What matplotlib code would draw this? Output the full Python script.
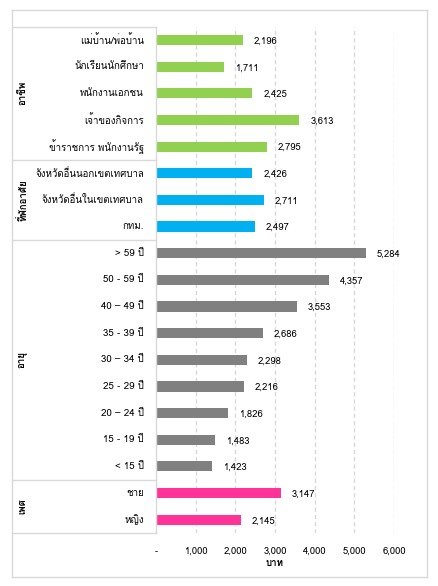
import matplotlib
matplotlib.use("Agg")
import matplotlib.pyplot as plt
from matplotlib.lines import Line2D
from matplotlib.ticker import FuncFormatter

plt.rcParams['font.family'] = ['Loma', 'Noto Sans Thai UI', 'DejaVu Sans']

# ---- data ----
group_names = ['อาชีพ', 'ที่พักอาศัย', 'อายุ', 'เพศ']
group_sizes = [5, 3, 9, 2]
group_colors = ['#92D050', '#00B0F0', '#808080', '#FF3399']

categories = ['แม่บ้าน/พ่อบ้าน', 'นักเรียนนักศึกษา', 'พนักงานเอกชน', 'เจ้าของกิจการ',
              'ข้าราชการ พนักงานรัฐ',
              'จังหวัดอื่นนอกเขตเทศบาล', 'จังหวัดอื่นในเขตเทศบาล', 'กทม.',
              '> 59 ปี', '50 - 59 ปี', '40 – 49 ปี', '35 - 39 ปี', '30 – 34 ปี',
              '25 - 29 ปี', '20 – 24 ปี', '15 - 19 ปี', '< 15 ปี',
              'ชาย', 'หญิง']
values = [2196, 1711, 2425, 3613, 2795,
          2426, 2711, 2497,
          5284, 4357, 3553, 2686, 2298, 2216, 1826, 1483, 1423,
          3147, 2145]
x_ticks = [0, 1000, 2000, 3000, 4000, 5000, 6000]
x_label = 'บาท'

W, H = 439, 586
fig = plt.figure(figsize=(W / 100, H / 100), dpi=100)

def fx(px):
    return px / W

def fy(py):
    return 1 - py / H

ax_left, ax_right, ax_top, ax_bot = 156, 394, 26.7, 533
ax = fig.add_axes([fx(ax_left), fy(ax_bot), fx(ax_right - ax_left), (ax_bot - ax_top) / H])

n = len(categories)
ypos = list(range(n))
bar_colors = []
for c, s in zip(group_colors, group_sizes):
    bar_colors += [c] * s

ax.barh(ypos, values, height=0.38, color=bar_colors, zorder=3)
ax.set_ylim(n - 0.5, -0.5)
ax.set_xlim(0, 6000)

for y, v in zip(ypos, values):
    ax.annotate(f'{v:,}', xy=(v, y), xytext=(11, -1), textcoords='offset pixels',
                ha='left', va='center', fontsize=6.8, color='#000000', annotation_clip=False)

ax.set_xticks(x_ticks)
ax.xaxis.set_major_formatter(FuncFormatter(lambda v, p: '-' if v == 0 else f'{int(v):,}'))
ax.tick_params(axis='x', length=0, pad=10, labelsize=6.8, colors='#000000')
ax.set_yticks([])
ax.set_xlabel(x_label, fontsize=7, labelpad=2, fontweight='bold')
for sp in ax.spines.values():
    sp.set_visible(False)

for xt in x_ticks[1:]:
    ax.axvline(xt, color='#D9D9D9', lw=1.0, ls=(0, (3, 2.2)), zorder=1)

# category labels
for y, c in zip(ypos, categories):
    ax.annotate(c, xy=(0, y), xycoords=ax.get_yaxis_transform(),
                xytext=(-12, 0), textcoords='offset pixels',
                fontsize=7, ha='right', va='center', annotation_clip=False)

# outer frame and table lines (figure coordinates)
line_kw = dict(color='#D9D9D9', lw=1.0, transform=fig.transFigure)
L, R, T, B = 11.5, 427, 10, 576.5
for (x0, y0, x1, y1) in [(L, T, R, T), (L, B, R, B), (L, T, L, B), (R, T, R, B)]:
    fig.add_artist(Line2D([fx(x0), fx(x1)], [fy(y0), fy(y1)], **line_kw))

row_h = (ax_bot - ax_top) / n
bounds = [ax_top]
acc = 0
for s in group_sizes:
    acc += s
    bounds.append(ax_top + acc * row_h)
for b in bounds:
    fig.add_artist(Line2D([fx(L), fx(ax_left)], [fy(b), fy(b)], **line_kw))
fig.add_artist(Line2D([fx(ax_left), fx(ax_left)], [fy(ax_top), fy(ax_bot)], **line_kw))

# group labels (vertical)
for i, g in enumerate(group_names):
    yc = (bounds[i] + bounds[i + 1]) / 2
    fig.text(fx(23), fy(yc), g, rotation=90, ha='center', va='center', fontsize=7,
             fontweight='bold', rotation_mode='anchor')

fig.savefig('out.png', dpi=100)
